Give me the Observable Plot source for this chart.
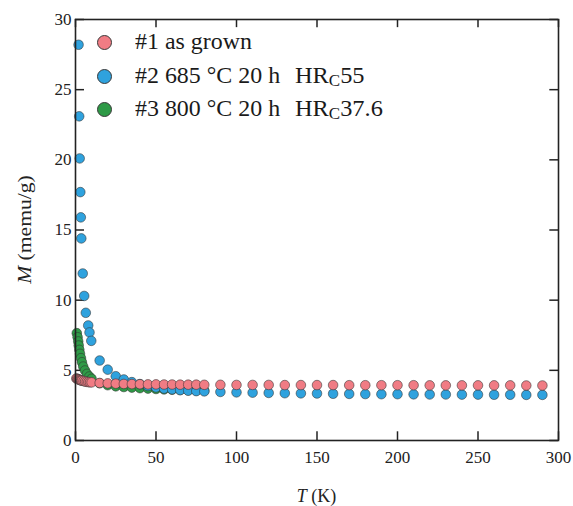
<!DOCTYPE html>
<html>
<head>
<meta charset="utf-8">
<script src="https://cdn.jsdelivr.net/npm/d3@7"></script>
<script src="https://cdn.jsdelivr.net/npm/@observablehq/plot@0.6"></script>
<style>
  html, body { margin: 0; padding: 0; background: #fff; }
  #wrap { position: relative; width: 573px; height: 506px; font-family: "Liberation Serif", "Times New Roman", Tinos, "Nimbus Roman", Times, serif; }
  .row { position: absolute; left: 97px; height: 30px; display: flex; align-items: center; font-size: 23px; color: #1a1a1a; white-space: nowrap; }
  .sw { width: 15px; height: 15px; border-radius: 50%; border: 1px solid #3a3a3a; box-sizing: border-box; }
  .lab { position: absolute; left: 38px; transform-origin: left center; transform: scaleX(1.04); }
  .hr { position: absolute; left: 198px; transform-origin: left center; transform: scaleX(1.06); }
  .hr sub { font-size: 16px; vertical-align: -3px; }
</style>
</head>
<body>
<div id="wrap"></div>
<script>
// ---- data ----
const seriesNames = ["#1 as grown", "#2 685 °C 20 h", "#3 800 °C 20 h"];
const hardness = [null, "55", "37.6"];
const colors = ["#f07c84", "#2fa2de", "#2e9a47"];

const xTicks = [0, 50, 100, 150, 200, 250, 300];
const yTicks = [0, 5, 10, 15, 20, 25, 30];

// #1 as grown
const T1 = [0.5, 1, 1.5, 2, 2.5, 3, 3.5, 4, 5, 6, 7, 8, 9,
  10, 15, 20, 25, 30, 35, 40, 45, 50, 55, 60, 65, 70, 75, 80,
  90, 100, 110, 120, 130, 140, 150, 160, 170, 180, 190, 200, 210, 220, 230, 240, 250, 260, 270, 280, 290];
const M1 = [4.42, 4.4, 4.37, 4.35, 4.33, 4.3, 4.28, 4.26, 4.23, 4.2, 4.18, 4.16, 4.15,
  4.14, 4.1, 4.07, 4.05, 4.03, 4.02, 4.01, 4.0, 4.0, 3.99, 3.99, 3.98, 3.98, 3.98, 3.97,
  3.97, 3.96, 3.96, 3.96, 3.95, 3.95, 3.95, 3.95, 3.94, 3.94, 3.94, 3.94, 3.94, 3.93, 3.93, 3.93, 3.93, 3.93, 3.93, 3.92, 3.92];

// #2 685 °C 20 h
const T2 = [1.9, 2.3, 2.6, 3.0, 3.3, 3.6, 4.5, 5.4, 6.4, 7.9, 8.7, 9.8,
  15, 20, 25, 30, 35, 40, 45, 50, 55, 60, 65, 70, 75, 80,
  90, 100, 110, 120, 130, 140, 150, 160, 170, 180, 190, 200, 210, 220, 230, 240, 250, 260, 270, 280, 290];
const M2 = [28.2, 23.1, 20.1, 17.7, 15.9, 14.4, 11.9, 10.3, 9.1, 8.2, 7.7, 7.1,
  5.7, 5.05, 4.58, 4.35, 4.16, 4.02, 3.88, 3.78, 3.7, 3.64, 3.59, 3.55, 3.52, 3.5,
  3.46, 3.43, 3.41, 3.39, 3.37, 3.36, 3.35, 3.33, 3.32, 3.31, 3.3, 3.3, 3.29, 3.28, 3.28, 3.27, 3.27, 3.26, 3.26, 3.25, 3.25];

// #3 800 °C 20 h
const T3 = [0.8, 1.3, 1.7, 2.0, 2.4, 2.8, 3.4, 4.0, 4.8, 5.9, 7.1, 8.6, 10,
  15, 20, 25, 30, 35, 40, 45, 50, 55, 60, 65, 70, 75, 80];
const M3 = [7.65, 7.36, 7.06, 6.77, 6.46, 6.18, 5.87, 5.58, 5.27, 4.99, 4.75, 4.56, 4.4,
  4.08, 3.94, 3.86, 3.81, 3.77, 3.73, 3.7, 3.67, 3.64, 3.62, 3.6, 3.58, 3.56, 3.55];

// ---- build ----
const toRows = (T, M) => T.map((t, i) => ({T: t, M: M[i]}));
const d1 = toRows(T1, M1), d2 = toRows(T2, M2), d3s = toRows(T3, M3);

const serif = "'Liberation Serif', 'Times New Roman', Tinos, 'Nimbus Roman', Times, serif";
const dotOpts = (c) => ({x: "T", y: "M", r: 4.8, fill: c, stroke: "#333", strokeWidth: 0.7, strokeOpacity: 0.8});

const plot = Plot.plot({
  width: 573,
  height: 506,
  marginLeft: 75,
  marginRight: 15,
  marginTop: 19,
  marginBottom: 66,
  x: {domain: [0, 300]},
  y: {domain: [0, 30]},
  style: {fontFamily: serif, fontSize: "17px", background: "white", color: "#222", overflow: "visible"},
  marks: [
    Plot.axisX({ticks: xTicks, tickSize: 0, tickPadding: 10, label: null}),
    Plot.axisY({ticks: yTicks, tickSize: 0, tickPadding: 4, label: null}),
    Plot.ruleX(xTicks, {x: d => d, y1: 0, y2: 0.62, stroke: "#222", strokeWidth: 1.5}),
    Plot.ruleX(xTicks, {x: d => d, y1: 29.42, y2: 30, stroke: "#222", strokeWidth: 1.5}),
    Plot.ruleY(yTicks, {y: d => d, x1: 0, x2: 5.6, stroke: "#222", strokeWidth: 1.5}),
    Plot.ruleY(yTicks, {y: d => d, x1: 294.6, x2: 300, stroke: "#222", strokeWidth: 1.5}),
    Plot.dot(d3s, dotOpts(colors[2])),
    Plot.dot(d2, dotOpts(colors[1])),
    Plot.dot(d1, dotOpts(colors[0])),
    Plot.frame({stroke: "#222", strokeWidth: 1.6})
  ]
});

const wrap = document.getElementById("wrap");
wrap.appendChild(plot);

// axis titles (italic variable + unit)
const sx = plot.scale("x"), sy = plot.scale("y");
const svg = d3.select(plot);
const xMid = (sx.apply(0) + sx.apply(300)) / 2;
const yMid = (sy.apply(0) + sy.apply(30)) / 2;
const xt = svg.append("text").attr("x", xMid).attr("y", 502).attr("text-anchor", "middle")
  .attr("font-size", 18).attr("font-family", serif).attr("fill", "#222");
xt.append("tspan").attr("font-style", "italic").text("T");
xt.append("tspan").text(" (K)");
const yt = svg.append("text").attr("transform", `translate(31,${yMid}) rotate(-90) scale(1.2,1)`).attr("text-anchor", "middle")
  .attr("font-size", 18).attr("font-family", serif).attr("fill", "#222");
yt.append("tspan").attr("font-style", "italic").text("M");
yt.append("tspan").text(" (memu/g)");

// legend
const rowCenters = [42, 76, 109];
seriesNames.forEach((name, i) => {
  const row = document.createElement("div");
  row.className = "row";
  row.style.top = (rowCenters[i] - 15) + "px";
  row.innerHTML = `<span class="sw" style="background:${colors[i]}"></span><span class="lab">${name}</span>` +
    (hardness[i] ? `<span class="hr">HR<sub>C</sub>${hardness[i]}</span>` : "");
  wrap.appendChild(row);
});
</script>
</body>
</html>
